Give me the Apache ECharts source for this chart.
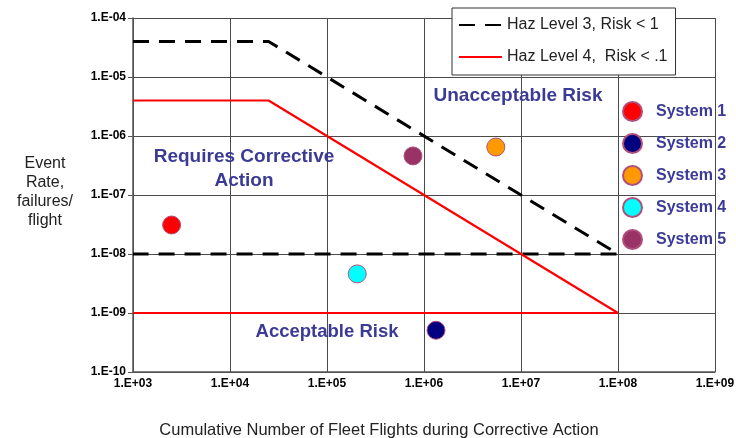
<!DOCTYPE html>
<html>
<head>
<meta charset="utf-8">
<script src="https://cdn.jsdelivr.net/npm/echarts@6/dist/echarts.min.js"></script>
<style>html,body{margin:0;padding:0;background:#fff;}#c{width:736px;height:438px;}</style>
</head>
<body>
<div id="c"></div>
<script>
// Threshold lines
var haz3Line = [[1e3, 4e-5], [2.5e4, 4e-5], [1e8, 1e-8], [1e3, 1e-8]];
var haz4Line = [[1e3, 4e-6], [2.5e4, 4e-6], [1e8, 1e-9], [1e3, 1e-9]];
// Systems
var systemNames = ['System 1', 'System 2', 'System 3', 'System 4', 'System 5'];
var systemX = [2.5e3, 1.33e6, 5.5e6, 2.05e5, 7.7e5];
var systemY = [3.1e-8, 5.1e-10, 6.5e-7, 4.6e-9, 4.6e-7];
var systemColors = ['#ff0000', '#000080', '#ff9900', '#00ffff', '#993366'];
var lineNames = ['Haz Level 3, Risk < 1', 'Haz Level 4,  Risk < .1'];
var xTickLabels = ['1.E+03','1.E+04','1.E+05','1.E+06','1.E+07','1.E+08','1.E+09'];
var yTickLabels = ['1.E-10','1.E-09','1.E-08','1.E-07','1.E-06','1.E-05','1.E-04'];

var chart = echarts.init(document.getElementById('c'));
var txtColor = '#3b3b96';
var font = 'Liberation Sans, Arial, sans-serif';

var series = [
  {name: lineNames[0], type: 'line', data: haz3Line, symbol: 'none', z: 3,
   lineStyle: {color: '#000', width: 3, type: [16, 10]}, itemStyle: {color: '#000'}},
  {name: lineNames[1], type: 'line', data: haz4Line, symbol: 'none', z: 3,
   lineStyle: {color: '#ff0000', width: 2.2}, itemStyle: {color: '#ff0000'}}
];
systemNames.forEach(function (n, i) {
  series.push({name: n, type: 'scatter', symbol: 'circle', symbolSize: 18, z: 5,
    data: [[systemX[i], systemY[i]]],
    itemStyle: {color: systemColors[i], borderColor: '#b0507a', borderWidth: 1, opacity: 1}});
});

function expOf(v) { return Math.round(Math.log10(v)); }

chart.setOption({
  animation: false,
  textStyle: {fontFamily: font},
  grid: {left: 133, right: 21, top: 18, bottom: 66, containLabel: false, outerBoundsMode: 'none'},
  xAxis: {
    type: 'log', logBase: 10, min: 1e3, max: 1e9,
    axisLine: {show: true, lineStyle: {color: '#555', width: 1.5}},
    axisTick: {show: false},
    splitLine: {show: true, lineStyle: {color: '#4a4a4a', width: 1}},
    axisLabel: {color: '#000', fontWeight: 'bold', fontSize: 12, margin: 6,
      formatter: function (v) { return xTickLabels[expOf(v) - 3]; }}
  },
  yAxis: {
    type: 'log', logBase: 10, min: 1e-10, max: 1e-4,
    axisLine: {show: true, lineStyle: {color: '#555', width: 1.5}},
    axisTick: {show: true, length: 5, lineStyle: {color: '#555'}},
    splitLine: {show: true, lineStyle: {color: '#4a4a4a', width: 1}},
    axisLabel: {color: '#000', fontWeight: 'bold', fontSize: 12, margin: 7,
      formatter: function (v) { return yTickLabels[expOf(v) + 10]; }}
  },
  legend: [
    {data: lineNames, orient: 'vertical', left: 452, top: 8,
     backgroundColor: '#fff', borderColor: '#333', borderWidth: 1,
     padding: [9, 8, 10, 6], itemGap: 16, itemWidth: 43, itemHeight: 14,
     itemStyle: {opacity: 0},
     textStyle: {fontSize: 16, color: '#222'}},
    {data: systemNames, orient: 'vertical', left: 617, top: 96,
     itemGap: 11, itemWidth: 19, itemHeight: 19, icon: 'circle',
     textStyle: {fontSize: 16, fontWeight: 'bold', color: txtColor, padding: [0, 0, 0, 9]}}
  ],
  graphic: [
    {type: 'text', x: 518, y: 96, z: 10,
     style: {text: 'Unacceptable Risk', fill: txtColor, font: 'bold 19px ' + font,
             textAlign: 'center', textVerticalAlign: 'middle'}},
    {type: 'text', x: 244, y: 169, z: 10,
     style: {text: 'Requires Corrective\nAction', fill: txtColor, font: 'bold 19px ' + font,
             textAlign: 'center', textVerticalAlign: 'middle', lineHeight: 24}},
    {type: 'text', x: 327, y: 332, z: 10,
     style: {text: 'Acceptable Risk', fill: txtColor, font: 'bold 18.5px ' + font,
             textAlign: 'center', textVerticalAlign: 'middle'}},
    {type: 'text', x: 45, y: 192, z: 10,
     style: {text: 'Event\nRate,\nfailures/\nflight', fill: '#222', font: '16px ' + font,
             textAlign: 'center', textVerticalAlign: 'middle', lineHeight: 19}},
    {type: 'text', x: 379, y: 430, z: 10,
     style: {text: 'Cumulative Number of Fleet Flights during Corrective Action', fill: '#222',
             font: '16.5px ' + font, textAlign: 'center', textVerticalAlign: 'middle'}}
  ],
  series: series
});
</script>
</body>
</html>
